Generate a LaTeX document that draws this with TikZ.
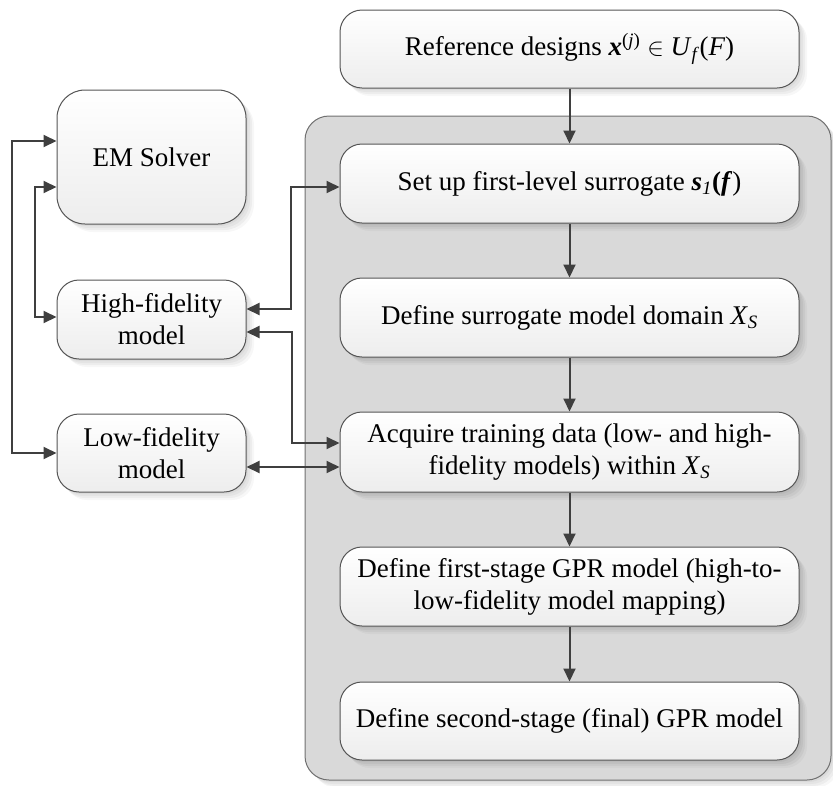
\documentclass[tikz,border=0pt]{standalone}
\usepackage{fontspec}
\setmainfont{Liberation Serif}
\usetikzlibrary{arrows.meta,calc,shadows}

\definecolor{boxline}{HTML}{555555}
\definecolor{boxbot}{HTML}{EDEDED}
\definecolor{panelfill}{HTML}{D9D9D9}
\definecolor{panelline}{HTML}{707070}
\definecolor{arrowc}{HTML}{3F3F3F}

\tikzset{
  softshadow/.style={
    general shadow={fill=black, opacity=0.04, shadow xshift=2pt, shadow yshift=-2pt},
    general shadow={fill=black, opacity=0.04, shadow xshift=4pt, shadow yshift=-4pt},
    general shadow={fill=black, opacity=0.04, shadow xshift=6pt, shadow yshift=-6pt},
    general shadow={fill=black, opacity=0.03, shadow xshift=8pt, shadow yshift=-8pt}},
  box/.style={draw=boxline, line width=1pt, rounded corners=22pt,
    top color=white, bottom color=boxbot, align=center, inner sep=0pt,
    font=\fontsize{27}{32}\selectfont, softshadow},
  panel/.style={draw=panelline, line width=1pt, rounded corners=24pt,
    fill=panelfill, inner sep=0pt, softshadow},
  tip/.tip={Triangle[length=13pt,width=12pt]},
  conn/.style={draw=arrowc, line width=2pt, -tip},
  biconn/.style={draw=arrowc, line width=2pt, tip-tip},
}

\begin{document}
\begin{tikzpicture}[x=1pt,y=-1pt]
\useasboundingbox (0,0) rectangle (833,785);

% grey panel holding the main flow
\node[panel, minimum width=526pt, minimum height=664pt] (panel) at (568,448) {};

% main flow
\node[box, minimum width=459pt, minimum height=78pt] (ref) at (569.5,49)
  {Reference designs \textbf{\textit{x}}\textsuperscript{(\textit{j})} $\in$ \textit{U}\textsubscript{\textit{f}}(\textit{F})};
\node[box, minimum width=459pt, minimum height=79pt] (setup) at (569.5,183.5)
  {Set up first-level surrogate \textbf{\textit{s}}\textsubscript{\textit{1}}\textbf{(\textit{f}})};
\node[box, minimum width=459pt, minimum height=79pt] (domain) at (569.5,317.5)
  {Define surrogate model domain \textit{X}\textsubscript{\textit{S}}};
\node[box, minimum width=459pt, minimum height=80pt] (acquire) at (569.5,452)
  {Acquire training data (low- and high-\\fidelity models) within \textit{X}\textsubscript{\textit{S}}};
\node[box, minimum width=459pt, minimum height=79pt] (gprone) at (569.5,586.5)
  {Define first-stage GPR model (high-to-\\low-fidelity model mapping)};
\node[box, minimum width=459pt, minimum height=78pt] (gprtwo) at (569.5,721)
  {Define second-stage (final) GPR model};

% models on the left
\node[box, rounded corners=28pt, minimum width=189pt, minimum height=134pt] (em) at (151.5,157)
  {EM Solver};
\node[box, minimum width=189pt, minimum height=79pt] (hf) at (151.5,319.5)
  {High-fidelity\\model};
\node[box, minimum width=189pt, minimum height=78pt] (lf) at (151.5,453)
  {Low-fidelity\\model};

% flow arrows
\draw[conn] (ref) -- (setup);
\draw[conn] (setup) -- (domain);
\draw[conn] (domain) -- (acquire);
\draw[conn] (acquire) -- (gprone);
\draw[conn] (gprone) -- (gprtwo);

% loops between solver and models
\draw[biconn] ($(em.west)+(0,-16)$) -- ++(-45,0) |- (lf.west);
\draw[biconn] ($(em.west)+(0,30)$) -- ++(-22,0) |- ($(hf.west)+(0,-2.5)$);

% model exchanges with the main flow
\draw[biconn] ($(setup.west)+(0,3.5)$) -- ++(-49,0) |- ($(hf.east)+(0,-10.5)$);
\draw[biconn] ($(hf.east)+(0,12.5)$) -- ++(45,0) |- ($(acquire.west)+(0,-9)$);
\draw[biconn] ($(lf.east)+(0,14)$) -- ($(acquire.west)+(0,15)$);
\end{tikzpicture}
\end{document}
